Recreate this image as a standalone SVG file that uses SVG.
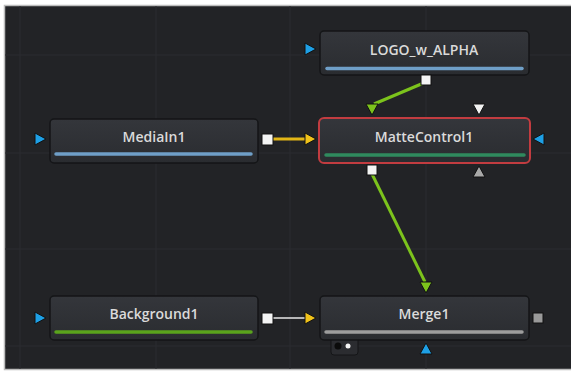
<svg xmlns="http://www.w3.org/2000/svg" width="571" height="374" viewBox="0 0 571 374">
<defs>
<linearGradient id="ng" x1="0" y1="0" x2="0" y2="1">
<stop offset="0" stop-color="#34363b"/>
<stop offset="1" stop-color="#2a2c30"/>
</linearGradient>
</defs>
<style>
.node{fill:url(#ng);stroke:#141517;stroke-width:1.5}
.sel{stroke:#c23c40;stroke-width:2}
.lbl{font-family:"Open Sans","Noto Sans",sans-serif;font-size:14px;font-weight:600;fill:#dadada;text-anchor:middle}
.bar{stroke-width:3.5;stroke-linecap:round}
.sq{fill:#f4f4f4;stroke:#111;stroke-width:1}
.tri{stroke:#111;stroke-width:1}
.grid{stroke:#2b2c30;stroke-width:1}
</style>
<rect x="0" y="0" width="571" height="374" fill="#ffffff"/>
<rect x="4.5" y="5.5" width="570" height="364" fill="#222326" stroke="#bdbdbd" stroke-width="1.5"/>
<g id="grid">
<line class="grid" x1="20" y1="6" x2="20" y2="369"/>
<line class="grid" x1="156" y1="6" x2="156" y2="369"/>
<line class="grid" x1="290" y1="6" x2="290" y2="369"/>
<line class="grid" x1="426" y1="6" x2="426" y2="369"/>
<line class="grid" x1="5" y1="55" x2="571" y2="55"/>
<line class="grid" x1="5" y1="153" x2="571" y2="153"/>
<line class="grid" x1="5" y1="249" x2="571" y2="249"/>
<line class="grid" x1="5" y1="346" x2="571" y2="346"/>
</g>
<g id="connectors">
<line x1="426" y1="82" x2="374" y2="104" stroke="#7cc31c" stroke-width="3"/>
<line x1="273" y1="139" x2="306" y2="139" stroke="#e2b616" stroke-width="3"/>
<line x1="372" y1="174" x2="425" y2="282" stroke="#7cc31c" stroke-width="3"/>
<line x1="273" y1="318" x2="306" y2="318" stroke="#e8e8e8" stroke-width="1.5"/>
</g>
<g id="LOGO_w_ALPHA">
<rect class="node" x="320" y="31" width="209" height="44" rx="4"/>
<line class="bar" x1="327" y1="68.5" x2="522" y2="68.5" stroke="#6f9fc8"/>
<text class="lbl" x="424" y="55">LOGO_w_ALPHA</text>
<polygon class="tri" points="305,43 316,49 305,55" fill="#1ea0e6"/>
<rect class="sq" x="421" y="75" width="10" height="10"/>
</g>
<g id="MediaIn1">
<rect class="node" x="50" y="119" width="208" height="44" rx="4"/>
<line class="bar" x1="56" y1="154" x2="251" y2="154" stroke="#6f9fc8"/>
<text class="lbl" x="154" y="142">MediaIn1</text>
<polygon class="tri" points="35,133 46,139 35,145" fill="#1ea0e6"/>
<rect class="sq" x="262" y="134" width="11" height="11"/>
</g>
<g id="MatteControl1">
<rect class="node sel" x="319" y="118" width="211" height="45" rx="5"/>
<line class="bar" x1="326" y1="155" x2="524" y2="155" stroke="#2f8a5e"/>
<text class="lbl" x="424" y="142">MatteControl1</text>
<polygon class="tri" points="366,104 378,104 372,115" fill="#7cc31c"/>
<polygon class="tri" points="473,104 485,104 479,115" fill="#f2f2f2"/>
<polygon class="tri" points="473,177 485,177 479,166" fill="#a8a8a8"/>
<polygon class="tri" points="544,133 533,139 544,145" fill="#1ea0e6"/>
<rect class="sq" x="367" y="165" width="10" height="10"/>
<polygon class="tri" points="305,133 316,139 305,145" fill="#f0c21a"/>
</g>
<g id="Background1">
<rect class="node" x="50" y="296" width="208" height="44" rx="4"/>
<line class="bar" x1="56" y1="332" x2="251" y2="332" stroke="#5aa31c"/>
<text class="lbl" x="154" y="319">Background1</text>
<polygon class="tri" points="35,312 46,318 35,324" fill="#1ea0e6"/>
<rect class="sq" x="262" y="313" width="11" height="11"/>
</g>
<g id="Merge1">
<rect x="331" y="336" width="27" height="19" rx="3" fill="#2b2c30" stroke="#141517" stroke-width="1"/>
<circle cx="338" cy="346" r="3.5" fill="#0b0b0b"/>
<circle cx="348" cy="346" r="2.5" fill="#f4f4f4"/>
<rect class="node" x="320" y="296" width="209" height="44" rx="4"/>
<line class="bar" x1="326" y1="332" x2="522" y2="332" stroke="#9d9d9d"/>
<text class="lbl" x="424" y="319">Merge1</text>
<polygon class="tri" points="420,282 432,282 426,293" fill="#7cc31c"/>
<polygon class="tri" points="420,354 432,354 426,343" fill="#1ea0e6"/>
<polygon class="tri" points="305,312 316,318 305,324" fill="#f0c21a"/>
<rect x="533" y="313" width="10" height="10" fill="#9a9a9a" stroke="#111" stroke-width="1"/>
</g>
</svg>
